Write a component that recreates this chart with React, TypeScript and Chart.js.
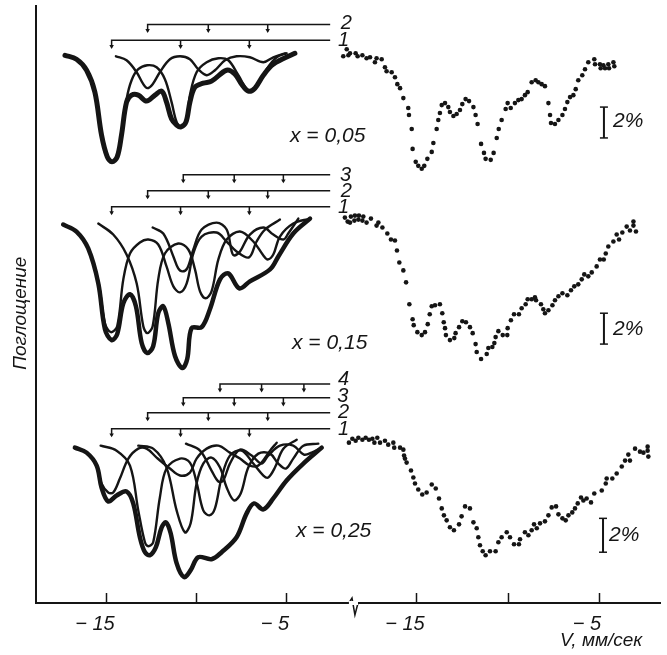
import React, { useEffect, useRef } from "react";
import { Chart, registerables } from "chart.js";

Chart.register(...registerables);

type Pt = [number, number];

// V in mm/s; y in absorption units (reversed; 15.5 units = 1 %), each spectrum vertically offset
const thick05: Pt[] = [[-17.33,53],[-16.69,57],[-16.13,68],[-15.67,90],[-15.30,133],[-14.98,155],[-14.72,160],[-14.43,155],[-14.19,133],[-13.91,100],[-13.63,93],[-13.26,93],[-12.80,99],[-12.33,93],[-11.96,89],[-11.69,100],[-11.41,117],[-11.13,123],[-10.89,125],[-10.61,120],[-10.39,100],[-10.11,85],[-9.65,81],[-9.19,79],[-8.35,68],[-7.89,72],[-7.52,82],[-7.15,89],[-6.78,86],[-6.31,73],[-5.76,62],[-4.56,51]];
const comp05a: Pt[] = [[-14.19,133],[-13.91,97],[-13.63,78],[-13.26,67],[-12.76,63],[-12.24,65],[-11.78,77],[-11.41,100],[-11.13,120],[-10.89,125],[-10.61,120],[-10.39,93],[-10.02,70],[-9.46,60],[-8.81,56],[-8.26,58],[-7.70,73],[-7.15,88],[-6.69,85],[-6.13,67],[-5.57,55],[-5.02,51]];
const comp05b: Pt[] = [[-14.50,54],[-13.91,58],[-13.35,70],[-12.98,82],[-12.76,86],[-12.46,82],[-12.06,70],[-11.50,57],[-10.94,54],[-10.39,57],[-9.93,67],[-9.46,73],[-9.00,68],[-8.44,58],[-7.80,54],[-7.06,55],[-6.31,60],[-5.76,55],[-5.11,51]];

const thick15: Pt[] = [[-17.43,223],[-16.69,230],[-16.04,247],[-15.48,282],[-15.11,328],[-14.74,339],[-14.43,333],[-14.09,302],[-13.72,293],[-13.39,305],[-13.07,342],[-12.76,352],[-12.43,345],[-12.15,312],[-11.87,305],[-11.59,322],[-11.22,355],[-10.81,367],[-10.54,358],[-10.30,327],[-9.74,326],[-9.28,308],[-8.72,278],[-8.26,272],[-7.65,287],[-7.06,280],[-5.94,268],[-5.48,255],[-4.65,232],[-3.72,217]];
const comp15a: Pt[] = [[-17.43,223],[-16.69,230],[-16.04,247],[-15.48,280],[-15.11,322],[-14.78,331],[-14.43,325],[-14.09,278],[-13.72,252],[-13.17,241],[-12.70,238],[-12.15,243],[-11.69,265],[-11.31,285],[-10.94,291],[-10.57,282],[-10.20,252],[-9.74,235],[-8.91,231],[-8.35,240],[-7.80,250],[-7.11,256],[-6.69,240],[-6.22,228],[-5.39,218]];
const comp15b: Pt[] = [[-15.48,222],[-14.65,233],[-13.91,253],[-13.35,282],[-12.98,325],[-12.76,332],[-12.46,325],[-12.15,278],[-11.78,252],[-11.04,242],[-10.48,248],[-10.11,268],[-9.83,290],[-9.52,297],[-9.19,290],[-8.81,258],[-8.35,238],[-7.61,230],[-6.87,240],[-6.31,254],[-6.07,258],[-5.76,253],[-5.39,235],[-4.65,222],[-3.72,217]];
const comp15c: Pt[] = [[-12.46,226],[-11.87,232],[-11.31,255],[-11.04,267],[-10.81,270],[-10.54,267],[-10.20,248],[-9.74,228],[-8.91,221],[-8.35,228],[-8.07,250],[-7.93,254],[-7.61,250],[-7.06,233],[-6.31,226],[-5.76,233],[-5.20,238],[-4.93,232],[-4.37,217]];

const thick25: Pt[] = [[-16.78,447],[-16.13,452],[-15.57,465],[-15.30,487],[-14.93,501],[-14.46,495],[-13.91,491],[-13.54,503],[-13.17,537],[-12.89,552],[-12.61,555],[-12.28,547],[-11.96,527],[-11.72,522],[-11.46,533],[-11.13,563],[-10.72,577],[-10.35,570],[-9.93,557],[-9.19,559],[-8.63,552],[-7.80,537],[-7.24,513],[-6.83,503],[-6.31,509],[-5.76,498],[-5.02,480],[-4.09,463],[-3.07,447]];
const comp25a: Pt[] = [[-16.78,447],[-16.13,452],[-15.57,465],[-15.30,483],[-14.93,492],[-14.65,492],[-14.28,478],[-13.81,458],[-13.26,448],[-12.80,448],[-12.24,457],[-11.50,468],[-10.94,475],[-10.39,472],[-10.02,458],[-9.46,448],[-8.81,445],[-8.17,452],[-7.61,458],[-7.06,465],[-6.59,465],[-5.94,450],[-5.57,442]];
const comp25b: Pt[] = [[-15.35,445],[-14.46,450],[-13.72,465],[-13.26,510],[-12.89,542],[-12.70,546],[-12.43,542],[-12.06,497],[-11.69,468],[-10.94,458],[-10.39,462],[-10.02,482],[-9.65,510],[-9.31,515],[-9.00,508],[-8.63,477],[-8.17,455],[-7.52,450],[-6.87,463],[-6.31,475],[-6.04,477],[-5.67,467],[-5.20,448],[-4.46,439]];
const comp25c: Pt[] = [[-13.26,445],[-12.43,448],[-11.69,467],[-11.13,510],[-10.67,532],[-10.35,523],[-10.02,483],[-9.65,463],[-9.19,457],[-8.72,467],[-8.35,487],[-7.94,500],[-7.57,493],[-7.15,467],[-6.59,453],[-5.94,453],[-5.48,463],[-5.06,468],[-4.65,458],[-4.09,445],[-3.26,443]];
const comp25d: Pt[] = [[-10.61,443],[-9.83,450],[-9.19,470],[-8.81,481],[-8.54,480],[-8.17,463],[-7.61,449],[-6.96,455],[-6.41,463],[-6.04,455],[-5.39,445],[-4.65,445],[-4.06,454],[-3.63,452],[-3.07,447]];

const dots05: Pt[] = [[-18.86,47],[-19.05,54],[-18.77,53],[-18.68,51],[-18.37,51],[-18.26,54],[-18.00,53],[-17.77,56],[-17.58,55],[-17.31,60],[-17.22,56],[-16.94,57],[-16.76,65],[-16.67,69],[-16.39,70],[-16.21,75],[-16.08,82],[-15.93,86],[-15.75,96],[-15.48,106],[-15.44,113],[-15.29,127],[-15.24,147],[-15.07,160],[-14.93,164],[-14.74,167],[-14.60,164],[-14.43,157],[-14.19,150],[-14.10,141],[-13.92,127],[-13.83,118],[-13.74,111],[-13.64,103],[-13.46,101],[-13.28,105],[-13.19,110],[-13.00,114],[-12.82,112],[-12.64,108],[-12.51,102],[-12.33,97],[-12.14,99],[-11.90,105],[-11.78,113],[-11.67,122],[-11.48,142],[-11.32,151],[-11.23,157],[-10.95,158],[-10.79,151],[-10.62,136],[-10.51,127],[-10.35,118],[-10.13,107],[-10.02,101],[-9.85,106],[-9.62,101],[-9.43,98],[-9.25,97],[-9.07,93],[-8.92,90],[-8.70,80],[-8.48,78],[-8.33,80],[-8.15,82],[-7.97,84],[-7.78,101],[-7.69,113],[-7.64,121],[-7.42,122],[-7.23,118],[-7.01,113],[-6.87,107],[-6.74,100],[-6.59,95],[-6.41,93],[-6.28,87],[-6.14,78],[-5.92,73],[-5.77,67],[-5.59,60],[-5.26,57],[-5.22,62],[-4.95,62],[-4.91,66],[-4.76,63],[-4.67,66],[-4.49,62],[-4.45,66],[-4.21,60],[-4.16,64]];
const dots15: Pt[] = [[-18.96,216],[-18.81,220],[-18.68,221],[-18.63,215],[-18.44,219],[-18.41,214],[-18.22,218],[-18.19,214],[-18.00,219],[-17.95,215],[-17.77,221],[-17.53,217],[-17.22,224],[-17.12,221],[-16.90,226],[-16.63,232],[-16.43,238],[-16.21,239],[-16.10,249],[-15.97,261],[-15.75,269],[-15.60,281],[-15.42,303],[-15.24,318],[-15.18,324],[-14.98,331],[-14.74,334],[-14.56,331],[-14.41,323],[-14.30,313],[-14.19,305],[-14.01,304],[-13.74,303],[-13.61,312],[-13.53,321],[-13.46,327],[-13.41,334],[-13.19,339],[-12.95,337],[-12.88,332],[-12.69,326],[-12.51,320],[-12.31,321],[-12.09,326],[-11.94,332],[-11.78,343],[-11.72,351],[-11.48,358],[-11.17,353],[-11.08,347],[-10.86,346],[-10.75,342],[-10.68,336],[-10.53,330],[-10.29,334],[-10.04,334],[-10.02,327],[-9.84,319],[-9.67,313],[-9.40,313],[-9.25,307],[-9.03,303],[-8.92,298],[-8.70,298],[-8.52,296],[-8.46,299],[-8.19,303],[-8.06,308],[-7.97,312],[-7.78,309],[-7.56,304],[-7.42,299],[-7.23,295],[-7.01,292],[-6.74,294],[-6.54,289],[-6.36,285],[-6.14,283],[-5.95,278],[-5.81,273],[-5.59,275],[-5.40,271],[-5.13,265],[-4.95,258],[-4.74,258],[-4.63,252],[-4.49,245],[-4.21,240],[-4.03,233],[-3.90,238],[-3.72,231],[-3.48,225],[-3.30,229],[-3.11,220],[-3.11,224],[-2.97,230]];
const dots25: Pt[] = [[-18.74,442],[-18.55,438],[-18.37,440],[-18.22,437],[-18.00,439],[-17.82,437],[-17.64,439],[-17.45,438],[-17.34,442],[-17.18,437],[-17.03,442],[-16.76,440],[-16.58,444],[-16.30,442],[-16.25,447],[-15.93,447],[-15.75,449],[-15.71,455],[-15.66,458],[-15.57,462],[-15.33,470],[-15.20,477],[-15.11,483],[-14.93,489],[-14.71,494],[-14.47,492],[-14.19,484],[-13.97,488],[-13.79,498],[-13.64,508],[-13.52,515],[-13.37,520],[-13.19,527],[-12.97,530],[-12.69,524],[-12.55,516],[-12.36,506],[-12.09,508],[-11.90,522],[-11.72,528],[-11.63,537],[-11.54,545],[-11.39,551],[-11.23,555],[-10.99,551],[-10.68,551],[-10.53,542],[-10.35,537],[-10.07,532],[-9.89,537],[-9.67,544],[-9.40,544],[-9.34,539],[-9.07,532],[-8.88,535],[-8.70,530],[-8.57,524],[-8.42,528],[-8.24,523],[-7.97,521],[-7.78,515],[-7.60,507],[-7.36,506],[-7.23,514],[-7.01,518],[-6.83,520],[-6.68,515],[-6.47,512],[-6.32,508],[-6.17,503],[-5.99,497],[-5.86,500],[-5.68,498],[-5.44,502],[-5.26,493],[-4.85,490],[-4.63,483],[-4.58,478],[-4.27,478],[-4.03,473],[-3.75,466],[-3.57,460],[-3.39,454],[-3.30,460],[-3.02,448],[-2.75,451],[-2.56,452],[-2.33,446],[-2.33,450],[-2.29,456]];

const sextet1: number[] = [-14.74, -10.91, -7.09];
const sextet2: number[] = [-12.74, -9.37, -6.07];
const sextet3: number[] = [-10.76, -7.93, -5.20];
const sextet4: number[] = [-8.72, -6.41, -4.06];
const levelRows: [number[], number][] = [
  [sextet2, 22], [sextet1, 38],
  [sextet3, 173], [sextet2, 189], [sextet1, 205],
  [sextet4, 383], [sextet3, 397], [sextet2, 412], [sextet1, 428],
];
const levelEndV = -2.6;

const scaleBars: [number, number, number][] = [[-4.73, 105, 136], [-4.73, 312, 343], [-4.78, 518, 552]];
const axisBreak: Pt[] = [[-18.74, 603], [-18.57, 598], [-18.41, 615], [-18.24, 603]];

const tickValues: number[] = [-15, -10, -5];
const labelledTicks: number[] = [-15, -5];

const ink = "#151515";
const sans = '"Liberation Sans", sans-serif';

type Note = { t: string; sc: string; v: number; y: number; size: number; align?: CanvasTextAlign; rot?: boolean };
const notes: Note[] = [
  { t: "2", sc: "xL", v: -1.7, y: 21, size: 20 }, { t: "1", sc: "xL", v: -1.85, y: 38, size: 20 },
  { t: "3", sc: "xL", v: -1.75, y: 174, size: 20 }, { t: "2", sc: "xL", v: -1.7, y: 190, size: 20 }, { t: "1", sc: "xL", v: -1.85, y: 206, size: 20 },
  { t: "4", sc: "xL", v: -1.85, y: 378, size: 20 }, { t: "3", sc: "xL", v: -1.9, y: 396, size: 20 }, { t: "2", sc: "xL", v: -1.85, y: 412, size: 20 }, { t: "1", sc: "xL", v: -1.85, y: 429, size: 20 },
  { t: "x = 0,05", sc: "xL", v: -4.83, y: 134, size: 21, align: "left" },
  { t: "x = 0,15", sc: "xL", v: -4.72, y: 342, size: 21, align: "left" },
  { t: "x = 0,25", sc: "xL", v: -4.5, y: 531, size: 21, align: "left" },
  { t: "2%", sc: "xR", v: -4.23, y: 119, size: 21, align: "left" },
  { t: "2%", sc: "xR", v: -4.23, y: 328, size: 21, align: "left" },
  { t: "2%", sc: "xR", v: -4.45, y: 535, size: 21, align: "left" },
  { t: "V, мм/сек", sc: "xR", v: -7.14, y: 641, size: 19, align: "left" },
  { t: "Поглощение", sc: "xL", v: -19.78, y: 312, size: 19, rot: true },
];

const pts = (a: Pt[]) => a.map(([x, y]) => ({ x, y }));
const curve = (a: Pt[], w: number) => ({
  data: pts(a), xAxisID: "xL", showLine: true, borderColor: ink, borderWidth: w,
  pointRadius: 0, tension: 0.35, clip: false as const, borderCapStyle: "round" as const,
});
const dots = (a: Pt[]) => ({
  data: pts(a), xAxisID: "xR", showLine: false, pointRadius: 2.3, pointBackgroundColor: ink, pointBorderWidth: 0, clip: false as const,
});

const notePlugin = {
  id: "notes",
  afterLayout(chart: any) {
    // the second velocity axis takes no layout height, but its labels need room to be drawn
    chart.scales.xR.bottom = chart.height;
  },
  afterDatasetsDraw(chart: any) {
    const ctx = chart.ctx as CanvasRenderingContext2D;
    ctx.save();
    ctx.fillStyle = ink;
    ctx.textBaseline = "middle";
    for (const n of notes) {
      const px = chart.scales[n.sc].getPixelForValue(n.v);
      const py = chart.scales.y.getPixelForValue(n.y);
      ctx.font = `italic ${n.size}px ${sans}`;
      ctx.textAlign = n.align ?? "center";
      ctx.save();
      ctx.translate(px, py);
      if (n.rot) ctx.rotate(-Math.PI / 2);
      ctx.fillText(n.t, 0, 0);
      ctx.restore();
    }
    ctx.restore();
  },
};

const xAxis = (min: number, max: number, h: number, weight: number) => ({
  type: "linear" as const,
  position: "bottom" as const,
  min, max, weight,
  afterFit: (s: any) => { s.height = h; s.paddingLeft = 0; s.paddingRight = 0; },
  border: { display: true, color: ink, width: 2 },
  grid: {
    drawOnChartArea: false, drawTicks: true, tickLength: -10, tickWidth: 1.5,
    tickColor: (c: any) => (tickValues.includes(c.tick?.value) ? ink : "transparent"),
  },
  ticks: {
    stepSize: 5, includeBounds: false, autoSkip: false, maxRotation: 0, minRotation: 0, padding: 19, labelOffset: -12, color: ink,
    font: { family: sans, style: "italic" as const, size: 20 },
    callback: (v: any) => (labelledTicks.includes(v) ? `− ${Math.abs(v)}` : ""),
  },
});

export default function App() {
  const ref = useRef<HTMLCanvasElement>(null);
  useEffect(() => {
    const levelDatasets = levelRows.flatMap(([vs, y]) => {
      const line: any[] = [{ x: levelEndV, y }, { x: vs[0], y }, { x: vs[0], y: y + 7 }];
      vs.slice(1).forEach((v) => line.push({ x: NaN, y: NaN }, { x: v, y }, { x: v, y: y + 7 }));
      return [
        { data: line, xAxisID: "xL", showLine: true, borderColor: ink, borderWidth: 1.5, pointRadius: 0, spanGaps: false, clip: false as const },
        { data: vs.map((v) => ({ x: v, y: y + 6 })), xAxisID: "xL", showLine: false, pointStyle: "triangle", rotation: 180, pointRadius: 2.6, pointBackgroundColor: ink, pointBorderWidth: 0, clip: false as const },
      ];
    });
    const barDatasets = scaleBars.map(([v, a, b]) => ({
      data: [{ x: v, y: a }, { x: v, y: b }], xAxisID: "xR", showLine: true, borderColor: ink, borderWidth: 2,
      pointStyle: "line", pointRadius: 4, pointBorderColor: ink, pointBorderWidth: 1.5, clip: false as const,
    }));
    const chart = new Chart(ref.current!, {
      type: "scatter",
      data: {
        datasets: [
          curve(thick05, 5), curve(comp05a, 2.4), curve(comp05b, 2.4),
          curve(thick15, 4.5), curve(comp15a, 2.4), curve(comp15b, 2.4), curve(comp15c, 2.4),
          curve(thick25, 4.5), curve(comp25a, 2.4), curve(comp25b, 2.4), curve(comp25c, 2.4), curve(comp25d, 2.4),
          dots(dots05), dots(dots15), dots(dots25),
          ...levelDatasets, ...barDatasets,
          { data: [{ x: axisBreak[0][0], y: 603 }, { x: axisBreak[3][0], y: 603 }], xAxisID: "xR", showLine: true, borderColor: "#ffffff", borderWidth: 4, pointRadius: 0, clip: false as const },
          { data: pts(axisBreak), xAxisID: "xR", showLine: true, borderColor: ink, borderWidth: 1.5, pointRadius: 0, clip: false as const },
        ] as any,
      },
      options: {
        responsive: false,
        animation: false,
        layout: { padding: { top: 3, right: 7, left: 0, bottom: 0 } },
        plugins: { legend: { display: false }, tooltip: { enabled: false } },
        scales: {
          xR: xAxis(-35.93, -1.65, 0, 1),
          xL: xAxis(-18.94, 15.72, 52, 2),
          y: {
            type: "linear", reverse: true, min: 3, max: 603, position: "left",
            afterFit: (s: any) => { s.width = 36; },
            border: { display: true, color: ink, width: 2 },
            grid: { display: false },
            ticks: { display: false },
          },
        },
      } as any,
      plugins: [notePlugin],
    });
    return () => chart.destroy();
  }, []);
  return (
    <div style={{ position: "fixed", left: 0, top: 0, width: 667, height: 655, background: "#ffffff" }}>
      <canvas ref={ref} width={667} height={655} style={{ display: "block" }} />
    </div>
  );
}
